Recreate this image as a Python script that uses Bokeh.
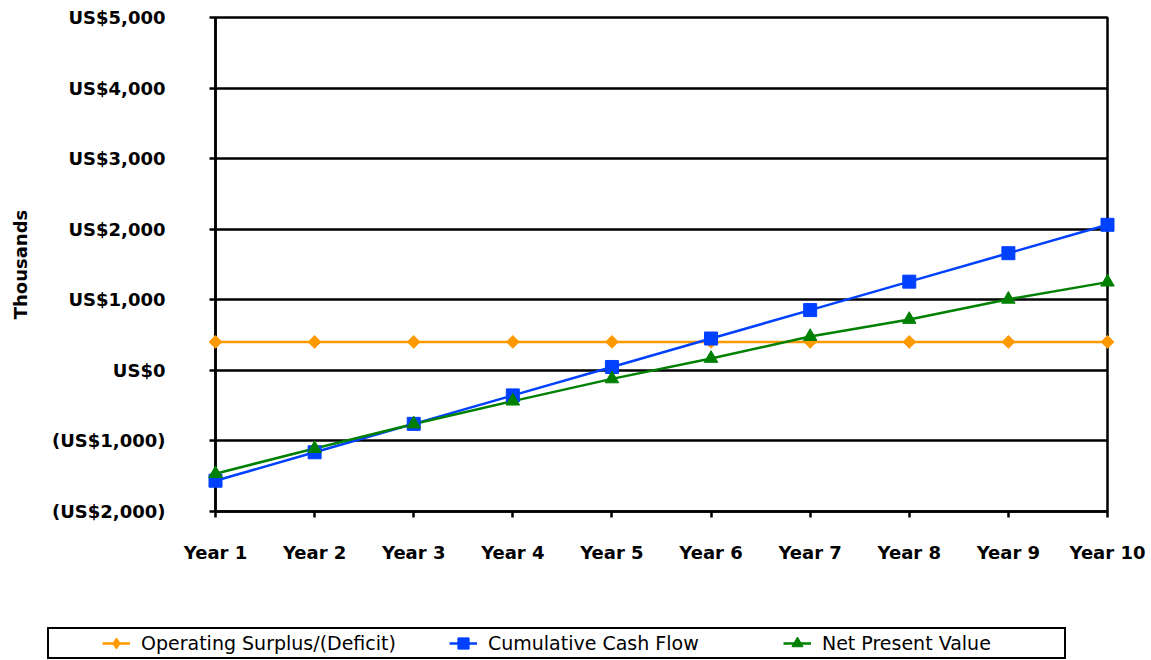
import numpy as np
from bokeh.plotting import figure
from bokeh.layouts import column
from bokeh.models import Legend, LegendItem, FixedTicker, Range1d
from bokeh.embed import file_html
from bokeh.resources import INLINE

# ---- data (US$ thousands) ----
years = ["Year 1", "Year 2", "Year 3", "Year 4", "Year 5",
         "Year 6", "Year 7", "Year 8", "Year 9", "Year 10"]
year_index = [1, 2, 3, 4, 5, 6, 7, 8, 9, 10]
operating_surplus = [403, 403, 403, 403, 403, 403, 403, 403, 403, 403]
cumulative_cash_flow = [-1564, -1161, -758, -355, 48, 451, 854, 1257, 1660, 2063]
net_present_value = [-1464, -1107, -760, -436, -121, 169, 479, 721, 1007, 1250]

y_ticks = [-2000, -1000, 0, 1000, 2000, 3000, 4000, 5000]
y_tick_labels = ["(US$2,000)", "(US$1,000)", "US$0", "US$1,000",
                 "US$2,000", "US$3,000", "US$4,000", "US$5,000"]

series_names = ["Operating Surplus/(Deficit)", "Cumulative Cash Flow", "Net Present Value"]
series_values = [operating_surplus, cumulative_cash_flow, net_present_value]

ORANGE = "#FF9900"
BLUE = "#0040FF"
GREEN = "#008000"
FONT = "DejaVu Sans"
RULE_W = 2.5

# marker styles in the chart (the orange diamond is a square turned 45 degrees)
styles = [
    dict(color=ORANGE, marker="square", size=9, angle=np.pi / 4),
    dict(color=BLUE, marker="square", size=13, angle=0),
    dict(color=GREEN, marker="triangle", size=13.5, angle=0),
]
# legend swatches ignore marker angle, so the orange one uses a diamond marker
legend_markers = ["diamond", "square", "triangle"]

p = figure(width=1151, height=620, output_backend="svg", toolbar_location=None,
           x_range=Range1d(1, 10), y_range=Range1d(-2000, 5000),
           min_border_left=215, min_border_right=44,
           min_border_top=17, min_border_bottom=109)
p.frame_align = False
p.background_fill_color = "white"
p.border_fill_color = "white"
p.outline_line_color = "black"
p.outline_line_width = RULE_W

# grid: horizontal black rules only
p.xgrid.visible = False
p.ygrid.ticker = FixedTicker(ticks=y_ticks)
p.ygrid.grid_line_color = "black"
p.ygrid.grid_line_width = RULE_W

# y axis
p.yaxis.ticker = FixedTicker(ticks=y_ticks)
p.yaxis.major_label_overrides = {t: l for t, l in zip(y_ticks, y_tick_labels)}
p.yaxis.axis_label = "Thousands"
p.yaxis.axis_label_text_font = FONT
p.yaxis.axis_label_text_font_style = "bold"
p.yaxis.axis_label_text_font_size = "18px"
p.yaxis.axis_label_text_color = "black"
p.yaxis.axis_label_standoff = 18
p.yaxis.major_label_standoff = 44

# x axis
p.xaxis.ticker = FixedTicker(ticks=year_index)
p.xaxis.major_label_overrides = {i: y for i, y in zip(year_index, years)}
p.xaxis.major_label_standoff = 24

for ax in (p.xaxis, p.yaxis):
    ax.axis_line_color = "black"
    ax.axis_line_width = RULE_W
    ax.major_tick_line_color = "black"
    ax.major_tick_line_width = RULE_W
    ax.major_tick_out = 6
    ax.major_tick_in = 0
    ax.minor_tick_line_color = None
    ax.major_label_text_font = FONT
    ax.major_label_text_font_style = "bold"
    ax.major_label_text_font_size = "18px"
    ax.major_label_text_color = "black"

# series
for values, st in zip(series_values, styles):
    p.line(year_index, values, line_color=st["color"], line_width=2.5)
    p.scatter(year_index, values, marker=st["marker"], angle=st["angle"], size=st["size"],
              fill_color=st["color"], line_color=st["color"], level="overlay")

# legend strip underneath the chart; its own series sit outside its ranges,
# so only the legend swatches show
lg = figure(width=1151, height=40, output_backend="svg", toolbar_location=None,
            x_range=Range1d(-1, 0), y_range=Range1d(-1, 0), min_border=0)
lg.frame_align = False
lg.axis.visible = False
lg.grid.visible = False
lg.outline_line_color = None
lg.background_fill_color = "white"
lg.border_fill_color = "white"

items = []
for name, values, st, mkr in zip(series_names, series_values, styles, legend_markers):
    ln = lg.line(year_index, values, line_color=st["color"], line_width=2.5)
    mk = lg.scatter(year_index, values, marker=mkr, size=st["size"],
                    fill_color=st["color"], line_color=st["color"])
    items.append(LegendItem(label=name, renderers=[ln, mk]))

legend = Legend(
    items=items,
    orientation="horizontal",
    location=(47, 1),
    margin=0,
    padding=0,
    spacing=53,
    glyph_width=28,
    glyph_height=28,
    label_standoff=11,
    label_width=242,
    label_height=20,
    label_text_font=FONT,
    label_text_font_size="19px",
    label_text_color="black",
    title=" ",
    title_location="left",
    title_text_font_size="1px",
    title_standoff=52,
    border_line_color="black",
    border_line_alpha=1,
    border_line_width=2,
    background_fill_color="white",
)
lg.add_layout(legend)

page = column(p, lg, spacing=0)
open("out.html", "w").write(file_html(page, INLINE))
